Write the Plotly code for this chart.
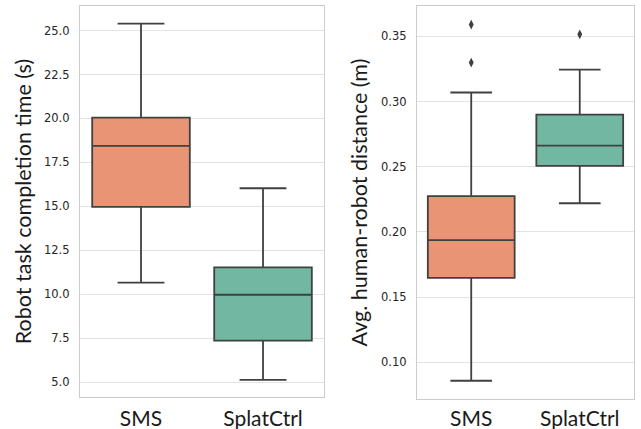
import plotly.graph_objects as go

categories = ["SMS", "SplatCtrl"]

# Robot task completion time (s)
time_lower = [10.66, 5.13]
time_q1 = [14.97, 7.36]
time_median = [18.44, 9.97]
time_q3 = [20.05, 11.53]
time_upper = [25.40, 16.03]

# Avg. human-robot distance (m)
dist_lower = [0.0859, 0.222]
dist_q1 = [0.1648, 0.2506]
dist_median = [0.1937, 0.2662]
dist_q3 = [0.2274, 0.2900]
dist_upper = [0.3069, 0.3245]
dist_outlier_cat = ["SMS", "SMS", "SplatCtrl"]
dist_outlier_val = [0.359, 0.3298, 0.3515]

colors = ["#e99575", "#72b7a1"]
edge = "#404040"

fig = go.Figure()

for i, c in enumerate(categories):
    fig.add_trace(go.Box(
        x=[c], q1=[time_q1[i]], median=[time_median[i]], q3=[time_q3[i]],
        lowerfence=[time_lower[i]], upperfence=[time_upper[i]],
        fillcolor=colors[i], line=dict(color=edge, width=1.8),
        width=0.8, whiskerwidth=0.48, boxpoints=False,
        xaxis="x", yaxis="y", showlegend=False, hoverinfo="skip"))
    fig.add_trace(go.Box(
        x=[c], q1=[dist_q1[i]], median=[dist_median[i]], q3=[dist_q3[i]],
        lowerfence=[dist_lower[i]], upperfence=[dist_upper[i]],
        fillcolor=colors[i], line=dict(color=edge, width=1.8),
        width=0.8, whiskerwidth=0.48, boxpoints=False,
        xaxis="x2", yaxis="y2", showlegend=False, hoverinfo="skip"))

fig.add_trace(go.Scatter(
    x=dist_outlier_cat, y=dist_outlier_val, mode="markers",
    marker=dict(symbol="diamond-tall", size=7, color=edge),
    xaxis="x2", yaxis="y2", showlegend=False, hoverinfo="skip"))

label_font = dict(family="Lato, Open Sans, sans-serif", size=21.5, color="#1a1a1a")
tick_font = dict(family="DejaVu Sans", size=11.5, color="#262626")

common_x = dict(type="category", categoryorder="array", categoryarray=categories,
                range=[-0.5, 1.5], showgrid=False, zeroline=False, automargin=False,
                showline=True, linecolor="#cccccc", linewidth=1.2, mirror=True,
                ticks="outside", tickcolor="rgba(0,0,0,0)",
                tickfont=dict(family="Lato, Open Sans, sans-serif", size=21, color="#1a1a1a"))
common_y = dict(showgrid=True, gridcolor="#e3e3e3", gridwidth=1, zeroline=False,
                automargin=False,
                showline=True, linecolor="#cccccc", linewidth=1.2, mirror=True,
                ticks="outside", ticklen=7, tickcolor="rgba(0,0,0,0)",
                tickfont=tick_font)

fig.update_layout(
    width=641, height=429,
    margin=dict(l=0, r=0, t=0, b=0),
    paper_bgcolor="white", plot_bgcolor="white",
    boxmode="overlay",
    xaxis=dict(domain=[0.1248, 0.5055], anchor="y", ticklen=3, **common_x),
    yaxis=dict(domain=[0.0746, 0.986], anchor="x", range=[4.15, 26.4],
               tickvals=[5, 7.5, 10, 12.5, 15, 17.5, 20, 22.5, 25],
               ticktext=["5.0", "7.5", "10.0", "12.5", "15.0", "17.5", "20.0", "22.5", "25.0"],
               title=dict(text="Robot task completion time (s)", font=label_font, standoff=6),
               **common_y),
    xaxis2=dict(domain=[0.6505, 0.9891], anchor="y2", ticklen=1, **common_x),
    yaxis2=dict(domain=[0.0699, 0.986], anchor="x2", range=[0.0719, 0.3732],
                tickvals=[0.10, 0.15, 0.20, 0.25, 0.30, 0.35],
                ticktext=["0.10", "0.15", "0.20", "0.25", "0.30", "0.35"],
                title=dict(text="Avg. human-robot distance (m)", font=label_font, standoff=7),
                **common_y),
)

fig.write_html("out.html", config={"displayModeBar": False},
               post_script="document.body.style.margin='0px';")
